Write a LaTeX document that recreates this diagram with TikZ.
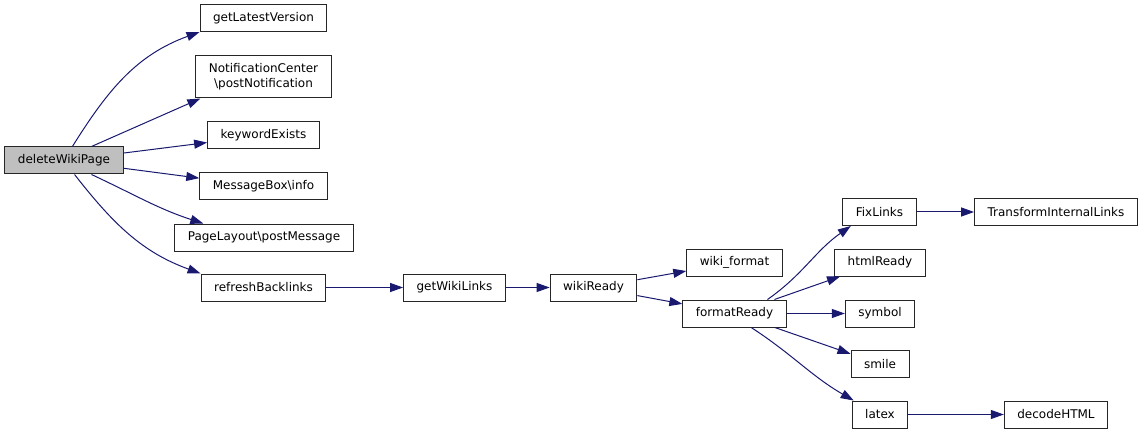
\documentclass[tikz,border=0pt]{standalone}
\usepackage{fontspec}
\setmainfont{DejaVu Sans}
\usetikzlibrary{arrows.meta}
\definecolor{calledge}{HTML}{191970}
\colorlet{fg}{black!85}
\colorlet{rootfill}{black!25}
\tikzset{fn/.style={draw=fg,line width=1pt,fill=white,minimum height=27pt,inner xsep=13pt,inner ysep=0pt,
    font=\fontsize{12}{15}\selectfont}}
\tikzset{root/.style={fn,fill=rootfill}}
\tikzset{call/.style={draw=calledge,line width=1pt,-{Triangle[length=13pt,width=9pt]}}}

\begin{document}
\begin{tikzpicture}[x=1pt,y=-1pt]
    \useasboundingbox (0,0) rectangle (1144,433);
    \node[root] (del) at (64,160.5) {deleteWikiPage};
    \node[fn] (glv) at (263.5,18) {getLatestVersion};
    \node[fn,minimum height=42pt,align=center] (nc) at (263.5,77) {NotificationCenter\\\textbackslash postNotification};
    \node[fn] (kw) at (263.5,135.5) {keywordExists};
    \node[fn] (mb) at (263.5,186.5) {MessageBox\textbackslash info};
    \node[fn] (pl) at (264,237.5) {PageLayout\textbackslash postMessage};
    \node[fn] (rb) at (263.5,287.5) {refreshBacklinks};
    \node[fn] (gwl) at (454.5,287.5) {getWikiLinks};
    \node[fn] (wr) at (593.5,287.5) {wikiReady};
    \node[fn] (wf) at (734.5,262.5) {wiki\_format};
    \node[fn] (fr) at (734.5,313.5) {formatReady};
    \node[fn] (fl) at (879.5,212) {FixLinks};
    \node[fn] (til) at (1056,212) {TransformInternalLinks};
    \node[fn] (hr) at (880,262.5) {htmlReady};
    \node[fn] (sym) at (880,313.5) {symbol};
    \node[fn] (sm) at (880,364) {smile};
    \node[fn] (lx) at (880,414.5) {latex};
    \node[fn] (dec) at (1056,414.5) {decodeHTML};

    \draw[call] (del.59) to[out=58,in=200] (glv.south west);
    \draw[call] (del.27) -- ([xshift=5pt]nc.south west);
    \draw[call] (del) -- (kw);
    \draw[call] (del) -- (mb);
    \draw[call] (del.-27) to[out=-25,in=162] (pl.167);
    \draw[call] (del.-53) to[out=-52,in=160] (rb.north west);
    \draw[call] (rb) -- (gwl);
    \draw[call] (gwl) -- (wr);
    \draw[call] (wr) -- (wf);
    \draw[call] (wr) -- (fr);
    \draw[call] (fr.23) to[out=35,in=215] (fl.206);
    \draw[call] (fr) -- (hr);
    \draw[call] (fr) -- (sym);
    \draw[call] (fr) -- (sm);
    \draw[call] (fr.-40) to[out=-33,in=150] (lx.152);
    \draw[call] (fl) -- (til);
    \draw[call] (lx) -- (dec);
\end{tikzpicture}
\end{document}
